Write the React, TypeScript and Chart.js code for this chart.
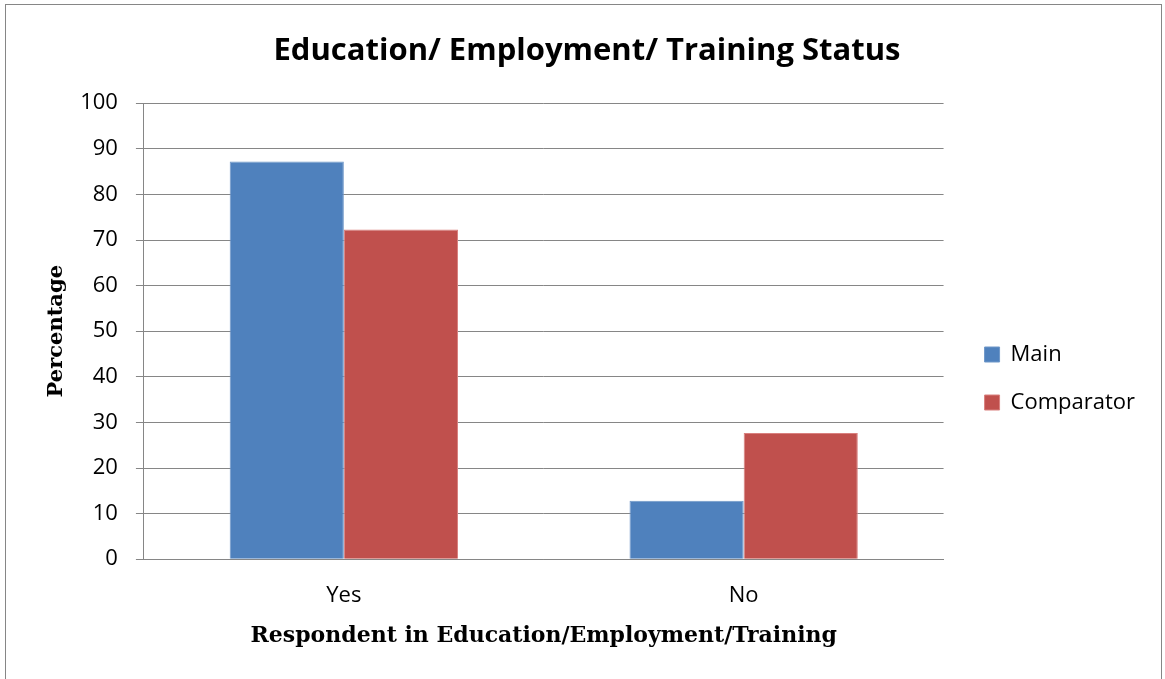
import React, { useEffect, useRef } from 'react';
import { Chart, registerables } from 'chart.js';

Chart.register(...registerables);

const categories = ['Yes', 'No'];
const seriesNames = ['Main', 'Comparator'];
const mainValues = [87.2, 12.8];
const comparatorValues = [72.3, 27.7];
const yMin = 0;
const yMax = 100;
const yStep = 10;
const chartTitle = 'Education/ Employment/ Training Status';
const xAxisTitle = 'Respondent in Education/Employment/Training';
const yAxisTitle = 'Percentage';

const Y_TICK_PAD = 18;
const X_TICK_PAD = 23;
const LEGEND_SHIFT_X = 15;
const LEGEND_SHIFT_Y = 48;

const frame = {
  id: 'frame',
  afterLayout(chart: any) {
    const lg = chart.legend;
    if (lg) {
      lg.left += LEGEND_SHIFT_X;
      lg.right += LEGEND_SHIFT_X;
      lg.top += LEGEND_SHIFT_Y;
      lg.bottom += LEGEND_SHIFT_Y;
    }
  },
  beforeDraw(chart: any) {
    const ctx = chart.ctx;
    ctx.save();
    ctx.fillStyle = '#ffffff';
    ctx.fillRect(0, 0, chart.width, chart.height);
    ctx.strokeStyle = '#868686';
    ctx.lineWidth = 1;
    ctx.strokeRect(5.5, 4.5, 1156, 720);
    ctx.restore();
  },
};

export default function App() {
  const ref = useRef<HTMLCanvasElement | null>(null);
  useEffect(() => {
    if (!ref.current) return;
    const chart = new Chart(ref.current, {
      type: 'bar',
      data: {
        labels: categories,
        datasets: [
          {
            label: seriesNames[0],
            data: mainValues,
            backgroundColor: '#4F81BD',
            borderColor: '#6E97C8',
            borderWidth: 1,
          },
          {
            label: seriesNames[1],
            data: comparatorValues,
            backgroundColor: '#C0504D',
            borderColor: '#D9807E',
            borderWidth: 1,
          },
        ],
      },
      plugins: [frame],
      options: {
        animation: false,
        responsive: false,
        maintainAspectRatio: false,
        layout: { padding: { left: 44, right: 35, top: 12, bottom: 30 } },
        datasets: { bar: { categoryPercentage: 0.571, barPercentage: 1 } },
        plugins: {
          title: {
            display: true,
            text: chartTitle,
            color: '#000',
            font: { family: '"Open Sans"', weight: 'bold', size: 31 },
            padding: { top: 21, bottom: 33 },
          },
          legend: {
            position: 'right',
            labels: {
              boxWidth: 15,
              boxHeight: 15,
              padding: 26,
              color: '#000',
              font: { family: '"Open Sans"', size: 22 },
            },
          },
          tooltip: { enabled: false },
        },
        scales: {
          x: {
            afterFit: (scale: any) => {
              scale.height = scale.height - X_TICK_PAD;
            },
            grid: { display: false, drawTicks: false },
            border: { display: true, color: '#868686', width: 1 },
            ticks: {
              color: '#000',
              padding: X_TICK_PAD,
              font: { family: '"Open Sans"', size: 22 },
            },
            title: {
              display: true,
              text: xAxisTitle,
              color: '#000',
              font: { family: '"DejaVu Serif"', weight: 'bold', size: 22 },
              padding: { top: 14, bottom: 0 },
            },
          },
          y: {
            min: yMin,
            max: yMax,
            afterFit: (scale: any) => {
              scale.width = scale.width - Y_TICK_PAD;
            },
            ticks: {
              stepSize: yStep,
              color: '#000',
              padding: Y_TICK_PAD,
              font: { family: '"Open Sans"', size: 22 },
            },
            grid: { color: '#868686', lineWidth: 1, tickLength: 8 },
            border: { display: true, color: '#868686', width: 1 },
            title: {
              display: true,
              text: yAxisTitle,
              color: '#000',
              font: { family: '"DejaVu Serif"', weight: 'bold', size: 21 },
              padding: { top: 0, bottom: 11 },
            },
          },
        },
      },
    });
    return () => chart.destroy();
  }, []);
  return (
    <div style={{ position: 'fixed', left: 0, top: 0, width: 1165, height: 679 }}>
      <canvas ref={ref} width={1165} height={679} />
    </div>
  );
}
